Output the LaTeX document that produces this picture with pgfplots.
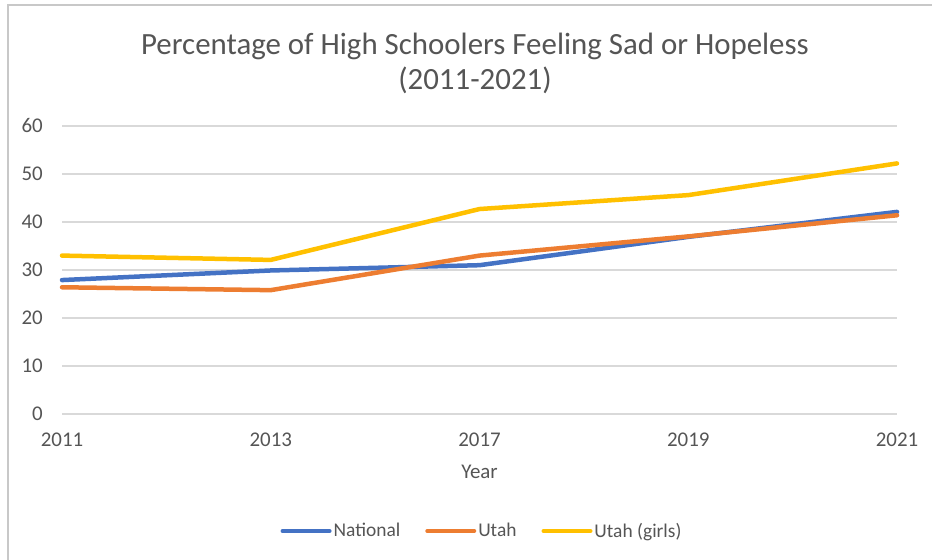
\documentclass[border=0pt]{standalone}
\usepackage{fontspec}
\setmainfont{Carlito}
\usepackage{pgfplots}
\pgfplotsset{compat=1.18}
\definecolor{txt}{HTML}{555555}
\definecolor{gridc}{HTML}{D9D9D9}
\definecolor{frame}{HTML}{C8C8C8}
\definecolor{cblue}{HTML}{4472C4}
\definecolor{corange}{HTML}{ED7D31}
\definecolor{cyellow}{HTML}{FFC000}
\begin{document}
\begin{tikzpicture}[x=1bp,y=1bp]
\useasboundingbox (0,0) rectangle (932,560);
\draw[frame, line width=1.5bp] (8,0) -- (8,555) -- (932,555);
\begin{axis}[
  scale only axis,
  width=835bp, height=288bp,
  at={(62bp,146bp)}, anchor=south west,
  xmin=0, xmax=4, ymin=0, ymax=60,
  xtick={0,1,2,3,4},
  xticklabels={2011,2013,2017,2019,2021},
  ytick={0,10,20,30,40,50,60},
  axis line style={draw=none},
  major tick length=0pt,
  ymajorgrids,
  grid style={gridc, line width=1.3bp},
  /pgf/number format/assume math mode=true,
  tick label style={font=\fontsize{21}{24}\selectfont, text=txt, inner sep=0pt},
  yticklabel style={anchor=east, xshift=-19bp},
  xticklabel style={anchor=north, yshift=-19bp},
  xlabel={Year},
  xlabel style={at={(axis description cs:0.5,0)}, anchor=center, yshift=-58bp, font=\fontsize{21}{24}\selectfont, text=txt, inner sep=0pt},
  title={Percentage of High Schoolers Feeling Sad or Hopeless\\(2011-2021)},
  title style={at={(axis description cs:0.5,1)}, anchor=center, yshift=56.5bp, xshift=-4.5bp, align=center, font=\fontsize{31}{35}\selectfont, text=txt, inner sep=0pt},
  legend columns=3,
  legend style={at={(axis description cs:0.5,0)}, anchor=center, yshift=-117bp, xshift=2.5bp, draw=none, fill=none, font=\fontsize{19.5}{22}\selectfont, text=txt, inner sep=0pt, /tikz/every even column/.append style={column sep=23bp}},
  legend cell align=left,
  legend image code/.code={\draw[#1, line width=4bp] (0bp,0bp) -- (47bp,0bp);},
  every axis plot/.append style={line width=4.5bp, line cap=round, line join=round, mark=none},
  clip=false,
]
\addplot[cblue] coordinates {(0,27.9) (1,29.9) (2,31.0) (3,36.9) (4,42.1)};
\addlegendentry{National}
\addplot[corange] coordinates {(0,26.4) (1,25.8) (2,33.0) (3,37.0) (4,41.4)};
\addlegendentry{Utah}
\addplot[cyellow] coordinates {(0,33.0) (1,32.1) (2,42.7) (3,45.6) (4,52.2)};
\addlegendentry{Utah (girls)}
\end{axis}
\end{tikzpicture}
\end{document}
